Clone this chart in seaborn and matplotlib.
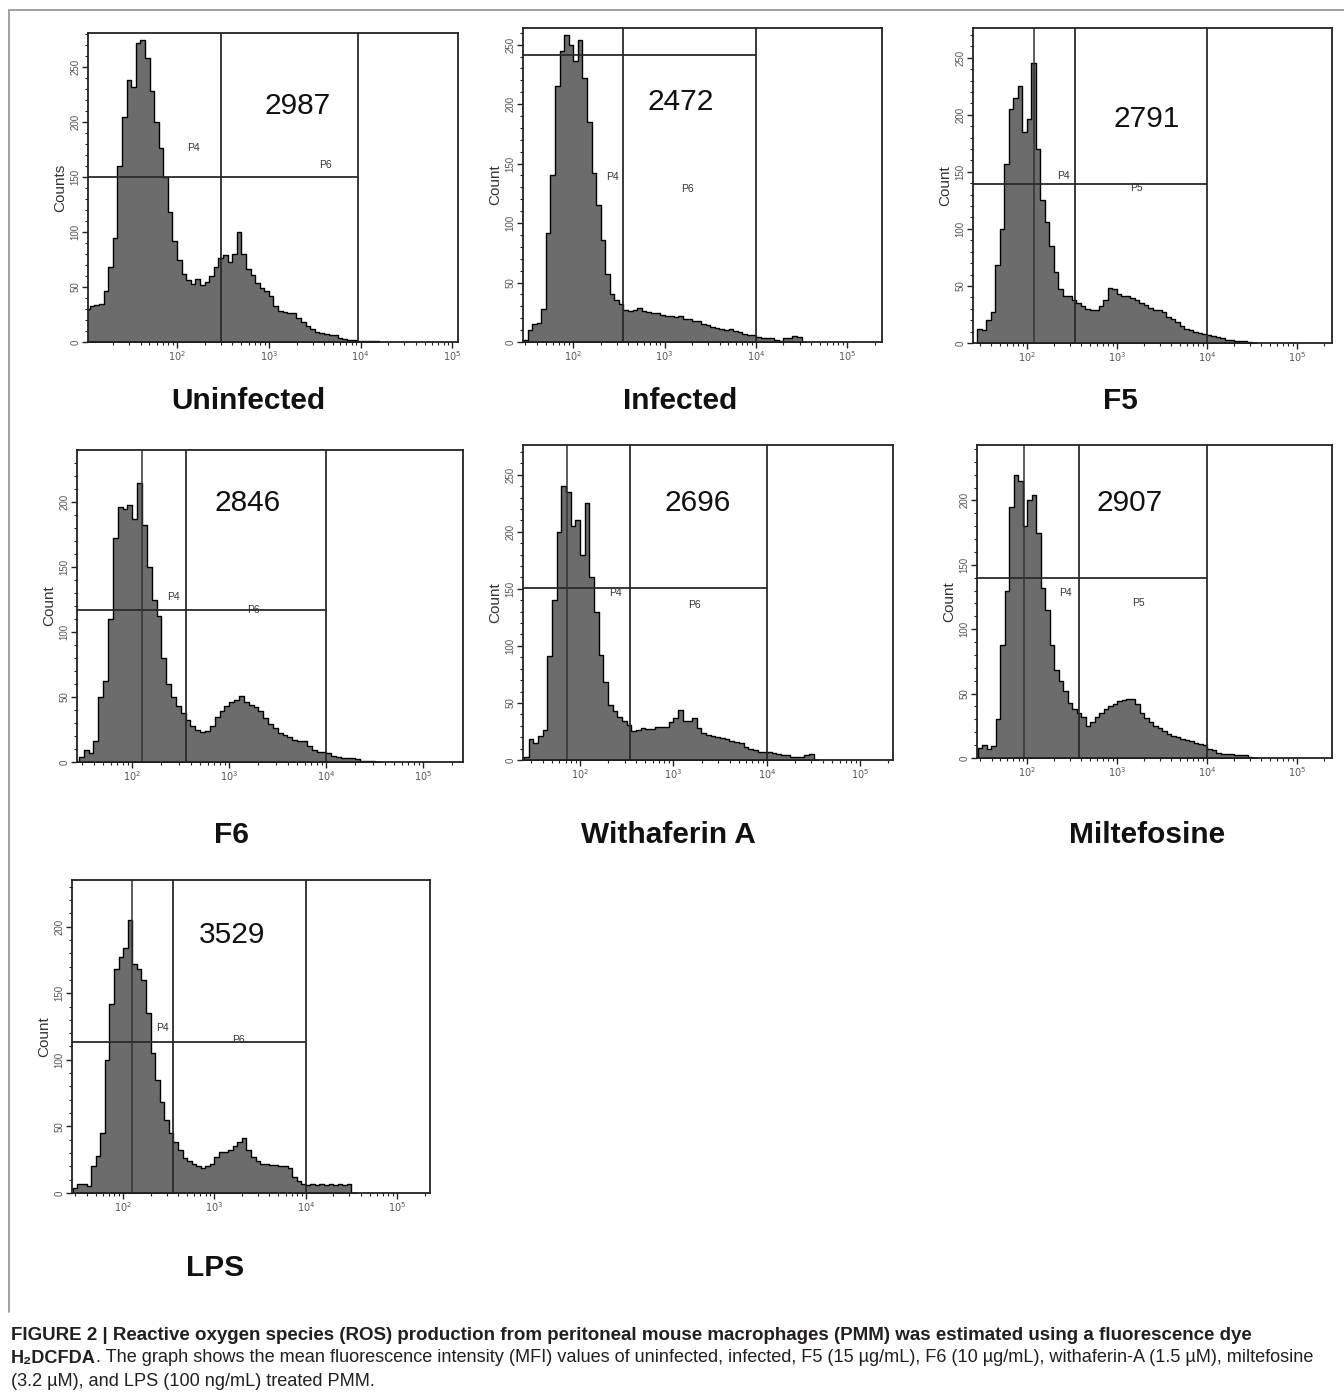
import numpy as np
import pandas as pd
import seaborn as sns
import matplotlib.pyplot as plt
from matplotlib.lines import Line2D

sns.set_theme(style="ticks")
plt.rcParams["font.family"] = ["Liberation Sans", "DejaVu Sans"]

# ---- data ----
samples = ["Uninfected", "Infected", "F5", "F6", "Withaferin A", "Miltefosine", "LPS"]
mfi = [2987, 2472, 2791, 2846, 2696, 2907, 3529]
y_titles = ["Counts", "Count", "Count", "Count", "Count", "Count", "Count"]
region_names = ["P6", "P6", "P5", "P6", "P6", "P5", "P6"]

# histogram bins in log10(fluorescence), width 0.05
bin_width = 0.05
bin_start = [1.00, 1.45, 1.45, 1.45, 1.40, 1.45, 1.45]

counts_uninfected = [30, 33, 34, 35, 46, 68, 95, 160, 205, 238, 232, 272, 275, 258, 228, 200,
                     176, 150, 118, 92, 75, 62, 56, 53, 57, 52, 55, 60, 68, 76, 79, 73,
                     80, 100, 80, 66, 61, 54, 49, 46, 42, 33, 28, 27, 26, 26, 22, 18,
                     15, 12, 9, 8, 7, 6, 6, 4, 3, 2, 2, 1, 1, 1, 1, 1]
counts_infected = [2, 10, 15, 16, 28, 92, 140, 215, 245, 258, 250, 236, 254, 222, 185, 142,
                   115, 86, 57, 40, 35, 32, 27, 26, 27, 29, 26, 25, 24, 24, 23, 22,
                   22, 21, 22, 19, 19, 18, 18, 15, 14, 13, 12, 11, 10, 11, 9, 8,
                   7, 6, 6, 4, 3, 3, 3, 2, 1, 3, 3, 5, 4, 0]
counts_f5 = [12, 11, 20, 27, 68, 100, 157, 205, 215, 225, 185, 196, 245, 170, 125, 106,
             85, 62, 47, 41, 41, 38, 35, 32, 30, 29, 29, 32, 38, 48, 47, 43,
             41, 41, 39, 38, 35, 33, 31, 29, 29, 27, 23, 21, 18, 15, 12, 11,
             10, 9, 8, 7, 6, 5, 4, 3, 3, 2, 2, 2, 1, 0]
counts_f6 = [4, 9, 7, 16, 50, 62, 110, 172, 196, 195, 198, 187, 215, 182, 150, 125,
             112, 80, 60, 50, 43, 38, 32, 28, 25, 23, 24, 28, 35, 39, 43, 46,
             48, 51, 46, 44, 42, 39, 34, 29, 26, 22, 21, 19, 17, 16, 16, 12,
             9, 8, 8, 7, 5, 4, 3, 3, 3, 2, 1, 1, 1, 0]
counts_withaferin = [3, 18, 15, 21, 26, 91, 140, 200, 240, 235, 205, 210, 180, 225, 160, 130,
                     92, 68, 48, 43, 38, 34, 31, 25, 26, 28, 27, 27, 29, 29, 29, 33,
                     37, 44, 34, 34, 37, 28, 24, 22, 21, 20, 19, 18, 17, 16, 15, 11,
                     10, 9, 7, 7, 7, 6, 5, 4, 4, 3, 3, 3, 4, 5, 0]
counts_miltefosine = [8, 10, 7, 9, 30, 88, 130, 195, 220, 215, 180, 200, 204, 175, 132, 115,
                      88, 68, 60, 52, 43, 38, 35, 32, 25, 28, 32, 35, 38, 40, 42, 44,
                      45, 46, 46, 42, 35, 31, 28, 25, 23, 21, 19, 17, 16, 15, 14, 13,
                      12, 11, 10, 7, 6, 4, 3, 3, 3, 2, 2, 2, 1, 0]
counts_lps = [4, 7, 7, 5, 20, 28, 45, 100, 142, 168, 177, 184, 205, 172, 168, 160,
              135, 105, 85, 68, 55, 45, 38, 32, 26, 24, 22, 20, 19, 20, 22, 27,
              31, 31, 32, 35, 38, 41, 32, 27, 24, 22, 22, 21, 21, 20, 20, 19,
              12, 9, 7, 6, 7, 6, 7, 6, 7, 6, 7, 6, 7, 0]
counts = [counts_uninfected, counts_infected, counts_f5, counts_f6,
          counts_withaferin, counts_miltefosine, counts_lps]

# gates (log10 fluorescence / count)
gate_lo = [2.48, 2.55, 2.53, 2.55, 2.53, 2.57, 2.55]
gate_hi = [3.97, 4.00, 4.00, 4.00, 4.00, 4.00, 4.00]
gate_count = [150, 241, 139, 117, 151, 140, 113]
clip_peak = [None, None, 2.08, 2.10, 1.86, 1.96, 2.10]

x_range = [(1.03, 5.06), (1.45, 5.38), (1.40, 5.39), (1.43, 5.41),
           (1.39, 5.35), (1.44, 5.39), (1.44, 5.36)]
y_max = [281, 264, 276, 240, 276, 243, 235]
y_top_tick = [250, 250, 250, 200, 250, 200, 200]

# ---- layout (pixels) ----
W, H = 1344, 1392
boxes = [(88, 33, 458, 342), (523, 28, 882, 342), (973, 28, 1332, 343),
         (77, 450, 463, 762), (523, 445, 893, 760), (977, 445, 1332, 758),
         (72, 880, 430, 1193)]
title_pos = [(248, 401), (680, 401), (1120, 401), (232, 835), (668, 835),
             (1147, 835), (215, 1268)]
p4_pos = [(2.18, 176), (2.43, 139), (2.40, 146), (2.42, 127), (2.38, 146), (2.42, 128), (2.43, 124)]
p6_pos = [(3.62, 161), (3.25, 129), (3.22, 136), (3.25, 117), (3.22, 136), (3.24, 120), (3.26, 115)]
mfi_pos = [(3.31, 215), (3.18, 202), (3.33, 196), (3.19, 199), (3.26, 225), (3.14, 198), (3.19, 194)]

fig = plt.figure(figsize=(W / 100, H / 100), dpi=100)


def px_rect(l, t, r, b):
    return [l / W, 1 - b / H, (r - l) / W, (b - t) / H]


for i, name in enumerate(samples):
    ax = fig.add_axes(px_rect(*boxes[i]))
    c = np.array(counts[i], dtype=float)
    edges = bin_start[i] + bin_width * np.arange(len(c) + 1)
    df = pd.DataFrame({"fl": edges[:-1] + bin_width / 2, "n": c})
    sns.histplot(data=df, x="fl", weights="n", bins=list(edges), element="step", fill=True,
                 color="#6c6c6c", edgecolor="black", linewidth=1.0, alpha=1, ax=ax)

    lo, hi = x_range[i]
    ax.set_xlim(lo, hi)
    ax.set_ylim(0, y_max[i])

    # gates
    gcol = "#2a2a2a"
    ax.axvline(gate_lo[i], color=gcol, lw=1.3)
    ax.axvline(gate_hi[i], color=gcol, lw=1.3)
    ax.hlines(gate_count[i], lo, gate_hi[i], color=gcol, lw=1.3)
    if clip_peak[i] is not None:
        ax.axvline(clip_peak[i], color="#333333", lw=1.1)

    ax.text(*p4_pos[i], "P4", fontsize=7.5, ha="center", va="center", color="#333333")
    ax.text(*p6_pos[i], region_names[i], fontsize=7.5, ha="center", va="center", color="#333333")
    ax.text(*mfi_pos[i], str(mfi[i]), fontsize=21.5, ha="center", va="center", color="#111111")

    # axes styling (flow-cytometry look)
    major = [d for d in range(1, 6) if lo <= d <= hi + 0.001]
    ax.set_xticks(major)
    ax.set_xticklabels([r"$10^{%d}$" % d for d in major])
    minors = [d + np.log10(k) for d in range(1, 6) for k in range(2, 10)]
    ax.set_xticks([m for m in minors if lo < m < hi], minor=True)
    ax.set_yticks(np.arange(0, y_top_tick[i] + 1, 50))
    ax.set_yticks(np.arange(0, y_max[i], 10), minor=True)
    ax.tick_params(which="major", length=4, width=1, labelsize=7, labelcolor="#555555",
                   color="#222222", pad=1.5)
    ax.tick_params(which="minor", length=2.5, width=0.8, color="#222222")
    ax.tick_params(axis="y", labelrotation=90)
    for lab in ax.get_yticklabels():
        lab.set_va("center")
    for sp in ax.spines.values():
        sp.set_visible(True)
        sp.set_color("#222222")
        sp.set_linewidth(1.3)
    ax.set_xlabel("")
    ax.set_ylabel(y_titles[i], fontsize=11, color="#333333", labelpad=2)

    tx, ty = title_pos[i]
    fig.text(tx / W, 1 - ty / H, name, fontsize=21.5, fontweight="bold",
             ha="center", va="center", color="#111111")

# frame around the panels
fig.add_artist(Line2D([9 / W, 9 / W], [1 - 10 / H, 1 - 1312 / H], color="#9a9a9a",
                      lw=1.3, transform=fig.transFigure))
fig.add_artist(Line2D([9 / W, 1.0], [1 - 10 / H, 1 - 10 / H], color="#9a9a9a",
                      lw=1.3, transform=fig.transFigure))

# caption
cap = dict(color="#231f20", va="center", ha="left")
fig.text(11 / W, 1 - 1335 / H,
         "FIGURE 2 | Reactive oxygen species (ROS) production from peritoneal mouse "
         "macrophages (PMM) was estimated using a fluorescence dye",
         fontweight="bold", fontsize=13.5, **cap)
t = fig.text(11 / W, 1 - 1358 / H, "H\u2082DCFDA", fontweight="bold", fontsize=13.1, **cap)
fig.canvas.draw()
bb = t.get_window_extent()
fig.text(bb.x1 / W, 1 - 1358 / H,
         ". The graph shows the mean fluorescence intensity (MFI) values of uninfected, "
         "infected, F5 (15 \u00b5g/mL), F6 (10 \u00b5g/mL), withaferin-A (1.5 \u00b5M), miltefosine",
         fontsize=13.1, **cap)
fig.text(11 / W, 1 - 1381 / H, "(3.2 \u00b5M), and LPS (100 ng/mL) treated PMM.",
         fontsize=13.1, **cap)

fig.savefig("out.png", dpi=100)
